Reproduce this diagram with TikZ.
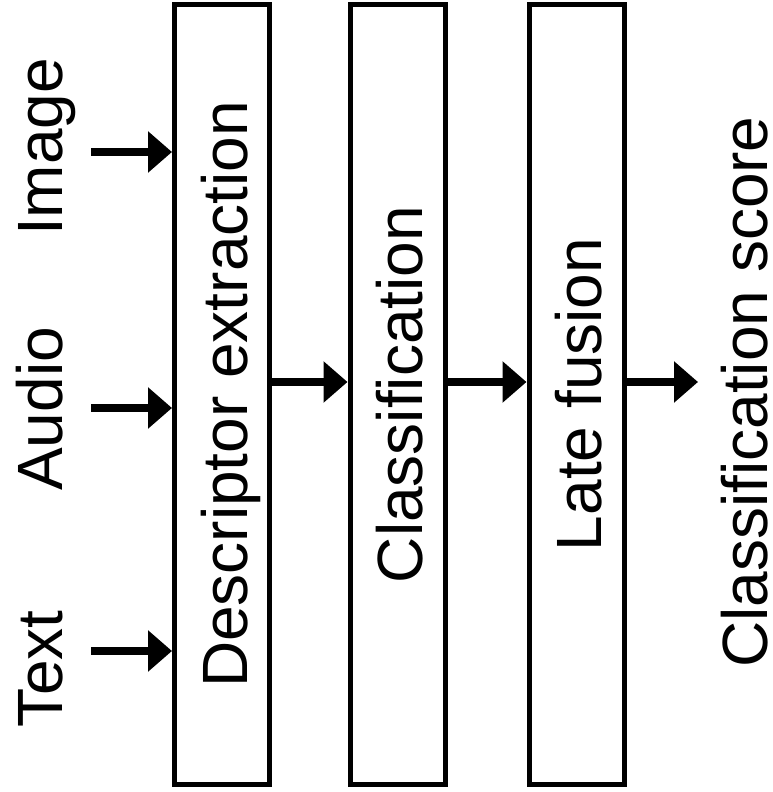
\documentclass[tikz,border=0pt]{standalone}
\usepackage{fontspec}
\setmainfont{Liberation Sans}
\usetikzlibrary{arrows.meta}
\begin{document}
\begin{tikzpicture}[x=1pt,y=1pt,
  stage/.style={draw, line width=5pt, minimum width=95pt, minimum height=780pt, inner sep=0pt},
  word/.style={rotate=90, anchor=base, inner sep=0pt, font=\fontsize{64}{70}\selectfont},
  flow/.style={line width=8pt, -{Triangle[length=24pt,width=40pt]}}]
\useasboundingbox (0,0) rectangle (773,792);

% processing stages
\node[stage] (b1) at (222,397.5) {};
\node[stage] (b2) at (397.5,397.5) {};
\node[stage] (b3) at (576.5,397.5) {};

\node[word] (t1) at (247,397.5) {Descriptor extraction};
\node[word] (t2) at (422,397.5) {Classification};
\node[word] (t3) at (601,397.5) {Late fusion};

% inputs
\node[word] (image) at (62,645) {Image};
\node[word] (audio) at (62,383) {Audio};
\node[word] (text)  at (62,123) {Text};

% output
\node[word] (score) at (767,400) {Classification score};

\coordinate (ia) at (91,640);
\coordinate (aa) at (91,384);
\coordinate (ta) at (91,141);
\coordinate (oa) at (698,410);

\draw[flow] (ia) -- (ia -| b1.west);
\draw[flow] (aa) -- (aa -| b1.west);
\draw[flow] (ta) -- (ta -| b1.west);

\coordinate (m1) at (269,410);
\coordinate (m2) at (445,410);
\coordinate (m3) at (624,410);
\draw[flow] (m1) -- (m1 -| b2.west);
\draw[flow] (m2) -- (m2 -| b3.west);
\draw[flow] (m3) -- (oa);
\end{tikzpicture}
\end{document}
